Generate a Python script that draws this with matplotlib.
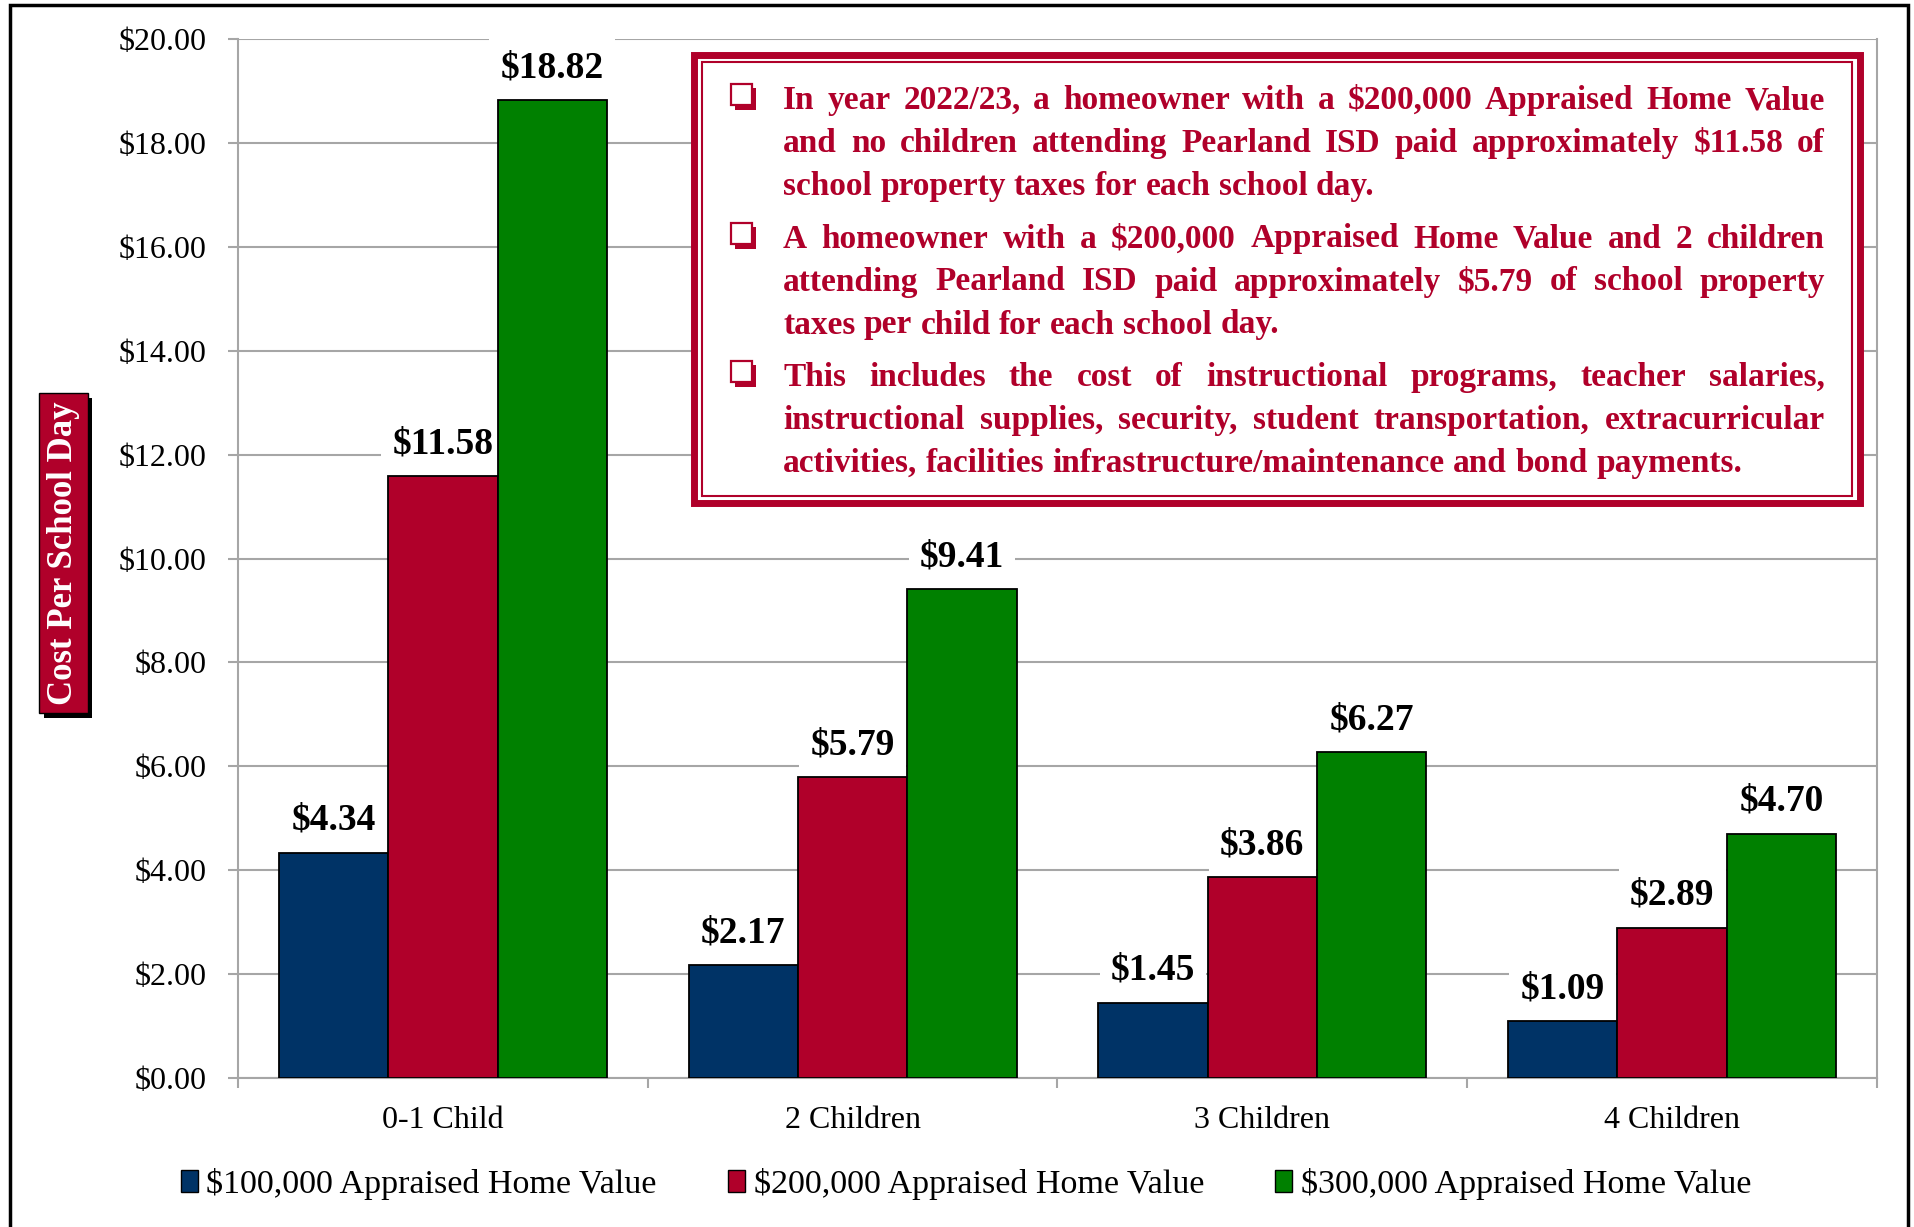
"""
Cost per school day chart - Pearland ISD school property taxes
"""
import matplotlib
matplotlib.use("Agg")
import matplotlib.pyplot as plt
from matplotlib.patches import Rectangle, Patch
from matplotlib.transforms import IdentityTransform
import numpy as np

plt.rcParams["text.parse_math"] = False
plt.rcParams["font.family"] = ["Liberation Serif", "DejaVu Serif"]

W_PX = 1915
H_PX = 1227
DPI = 100

CATEGORIES = ["0-1 Child", "2 Children", "3 Children", "4 Children"]
SERIES_NAMES = ["$100,000 Appraised Home Value",
                "$200,000 Appraised Home Value",
                "$300,000 Appraised Home Value"]
VALUES_100K = [4.34, 2.17, 1.45, 1.09]
VALUES_200K = [11.58, 5.79, 3.86, 2.89]
VALUES_300K = [18.82, 9.41, 6.27, 4.70]
Y_TICKS = [0, 2, 4, 6, 8, 10, 12, 14, 16, 18, 20]
Y_LABEL = "Cost Per School Day"

NOTES = [
    ["In year 2022/23, a homeowner with a $200,000 Appraised Home Value",
     "and no children attending Pearland ISD paid approximately $11.58 of",
     "school property taxes for each school day."],
    ["A homeowner with a $200,000 Appraised Home Value and 2 children",
     "attending Pearland ISD paid approximately $5.79 of school property",
     "taxes per child for each school day."],
    ["This includes the cost of instructional programs, teacher salaries,",
     "instructional supplies, security, student transportation, extracurricular",
     "activities, facilities infrastructure/maintenance and bond payments."],
]

BLUE = "#003366"
RED = "#B0002A"
GREEN = "#008000"
GRID = "#A6A6A6"
COLORS = [BLUE, RED, GREEN]


def fx(px):
    return px / W_PX


def fy(py):
    # pixel from top -> figure fraction from bottom
    return 1 - py / H_PX


def add_rect(fig, x0, y0, x1, y1, **kw):
    """ rectangle in pixel coords measured from top-left """
    r = Rectangle((fx(x0), fy(y1)), fx(x1 - x0), (y1 - y0) / H_PX,
                  transform=fig.transFigure, **kw)
    fig.patches.append(r)
    return r


def draw_notes(fig, renderer):
    """ justified text block in the red box """
    left, right = 783, 1825
    base0 = 109
    line_step = 43
    para_step = 138.5
    style = dict(color=RED, fontweight="bold", fontsize=20,
                 transform=IdentityTransform(), va="baseline", ha="left")

    # measure natural widths at trial size, then scale the font to fit
    def word_width(word, size):
        t = fig.text(0, 0, word, **{**style, "fontsize": size})
        w = t.get_window_extent(renderer).width
        t.remove()
        return w

    trial = 20
    space_w = word_width("a a", trial) - 2 * word_width("a", trial)
    widest = 0
    for para in NOTES:
        for line in para:
            words = line.split()
            w = sum(word_width(wd, trial) for wd in words)
            w += space_w * (len(words) - 1)
            widest = max(widest, w)
    size = min(24, trial * (right - left) / widest)
    style["fontsize"] = size
    space_w = word_width("a a", size) - 2 * word_width("a", size)

    for p, para in enumerate(NOTES):
        # bullet: shadowed white square
        by = base0 + p * para_step
        add_rect(fig, 735, by - 21, 756, by + 1, facecolor=RED,
                 edgecolor=RED, lw=0, zorder=5)
        add_rect(fig, 731, by - 25, 752, by - 4, facecolor="white",
                 edgecolor=RED, lw=1.6, zorder=6)
        for i, line in enumerate(para):
            y = H_PX - (base0 + p * para_step + i * line_step)
            words = line.split()
            widths = [word_width(wd, size) for wd in words]
            last = i == len(para) - 1
            if last or len(words) == 1:
                gap = space_w
            else:
                gap = (right - left - sum(widths)) / (len(words) - 1)
            x = left
            for wd, w in zip(words, widths):
                fig.text(x, y, wd, zorder=6, **style)
                x += w + gap


def main():
    fig = plt.figure(figsize=(W_PX / DPI, H_PX / DPI), dpi=DPI)
    ax = fig.add_axes([fx(238), fy(1078), fx(1877 - 238), (1078 - 39) / H_PX])

    x = np.arange(len(CATEGORIES))
    width = 0.267
    series = [VALUES_100K, VALUES_200K, VALUES_300K]
    for k, vals in enumerate(series):
        pos = x + (k - 1) * width
        bars = ax.bar(pos, vals, width, color=COLORS[k], edgecolor="black",
                      linewidth=1.3, zorder=3, label=SERIES_NAMES[k])
        for b, v in zip(bars, vals):
            ax.annotate(f"${v:.2f}", (b.get_x() + b.get_width() / 2, v),
                        xytext=(0, 16.5), textcoords="offset points",
                        ha="center", va="baseline", fontsize=27,
                        fontweight="bold", zorder=2,
                        bbox=dict(boxstyle="square,pad=0.3", fc="white",
                                  ec="none"))

    ax.set_xlim(-0.5, len(CATEGORIES) - 0.5)
    ax.set_ylim(0, 20)
    ax.set_yticks(Y_TICKS)
    ax.set_yticklabels([f"${t:.2f}" for t in Y_TICKS], fontsize=23)
    ax.set_xticks(x)
    ax.set_xticklabels(CATEGORIES, fontsize=23)
    ax.set_xticks(np.arange(-0.5, len(CATEGORIES)), minor=True)
    ax.tick_params(axis="x", which="major", length=0, pad=20)
    ax.tick_params(axis="x", which="minor", length=7.5, width=1.5,
                   color=GRID)
    ax.tick_params(axis="y", length=7.5, width=1.5, color=GRID, pad=15)

    ax.set_axisbelow(True)
    ax.grid(axis="y", color=GRID, linewidth=1.5, zorder=0.5)
    for side in ["left", "right", "bottom"]:
        ax.spines[side].set_color(GRID)
        ax.spines[side].set_linewidth(1.5)
    ax.spines["top"].set_visible(False)

    # legend
    handles = [Patch(facecolor=c, edgecolor="black", lw=1) for c in COLORS]
    fig.legend(handles, SERIES_NAMES, loc="center", ncol=3,
               bbox_to_anchor=(fx(966), fy(1184)), frameon=False,
               fontsize=24.5, handlelength=0.5, handleheight=0.6,
               handletextpad=0.25, columnspacing=2.1)

    # y-axis label in a red box with shadow
    add_rect(fig, 44, 398, 92, 718, facecolor="black", lw=0, zorder=4)
    add_rect(fig, 39, 393, 88, 713, facecolor=RED, edgecolor="black",
             lw=1, zorder=5)
    fig.text(fx(64), fy(553), Y_LABEL, rotation=90, color="white",
             fontsize=25, fontweight="bold", ha="center", va="center",
             zorder=6)

    # note box with double red border
    add_rect(fig, 694, 55, 1860, 503, facecolor="white", edgecolor=RED,
             lw=5, zorder=4)
    add_rect(fig, 702, 62, 1852, 496, facecolor="none", edgecolor=RED,
             lw=1.5, zorder=5)
    renderer = fig.canvas.get_renderer()
    draw_notes(fig, renderer)

    # outer frame
    add_rect(fig, 10, 5, 1908, 1300, facecolor="none", edgecolor="black",
             lw=2.5, zorder=1)

    fig.savefig("out.png", dpi=DPI)


main()
